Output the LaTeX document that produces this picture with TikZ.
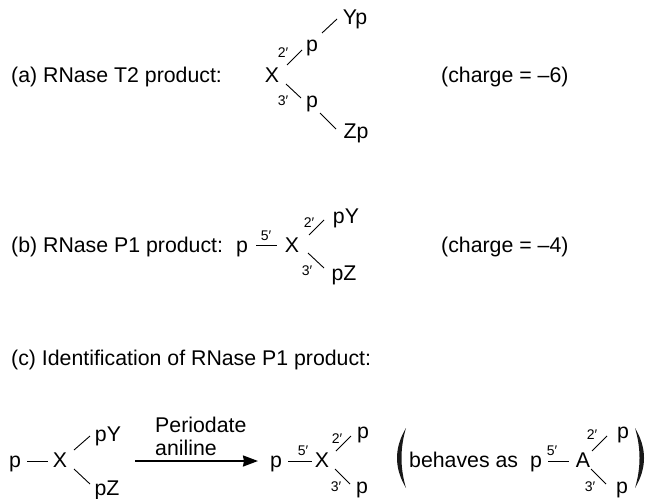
\documentclass[tikz,border=0pt]{standalone}
\usepackage{fontspec}
\setmainfont{Liberation Sans}
\usetikzlibrary{arrows.meta}
\tikzset{
  lbl/.style={anchor=base west, inner sep=0pt},
  atom/.style={anchor=base, inner sep=0pt},
  prime/.style={anchor=base, inner sep=0pt, font=\fontsize{14}{16}\selectfont},
  bond/.style={line width=0.9pt},
  reaction/.style={line width=2pt, -{Stealth[length=15pt,width=11pt,inset=1pt]}},
  bigparen/.style={fill=black!90, draw=none}
}

\begin{document}
\begin{tikzpicture}[x=1pt, y=-1pt, font=\fontsize{21.3}{24}\selectfont]
\useasboundingbox (0,0) rectangle (647,498);

% ---- (a) T2 product ----
\node[lbl] (labela) at (11,82){(a) RNase T2 product:};
\node[atom] (Xa) at (272,82){X};
\node[atom] (pa) at (312,51){p};
\node[atom] (pb) at (312,107){p};
\node[atom] (Yp) at (355,24){Yp};
\node[atom] (Zp) at (356,138){Zp};
\node[prime] (twoa) at (283,57){2′};
\node[prime] (threea) at (283,105){3′};
\node[lbl] (chargea) at (441,82){(charge = –6)};
\draw[bond] ([shift={(15,-17)}]Xa.base) -- ([shift={(-10,-1)}]pa.base);
\draw[bond] ([shift={(10,-18)}]pa.base) -- ([shift={(-18,-5)}]Yp.base);
\draw[bond] ([shift={(14,2)}]Xa.base) -- ([shift={(-11,-9)}]pb.base);
\draw[bond] ([shift={(8,6)}]pb.base) -- ([shift={(-20,-9)}]Zp.base);

% ---- (b) P1 product ----
\node[lbl] (labelb) at (11,252){(b) RNase P1 product:};
\node[atom] (pc) at (242,252){p};
\node[atom] (Xb) at (292,252){X};
\node[atom] (pY) at (346,223){pY};
\node[atom] (pZ) at (344,280){pZ};
\node[prime] (fiveb) at (266,240){5′};
\node[prime] (twob) at (309,227){2′};
\node[prime] (threeb) at (307,275){3′};
\node[lbl] (chargeb) at (441,252){(charge = –4)};
\draw[bond] ([shift={(14,-7)}]pc.base) -- ([shift={(-15,-7)}]Xb.base);
\draw[bond] ([shift={(17,-17)}]Xb.base) -- ([shift={(-22,-3)}]pY.base);
\draw[bond] ([shift={(16,1)}]Xb.base) -- ([shift={(-20,-12)}]pZ.base);

% ---- (c) identification ----
\node[lbl] (labelc) at (11,365){(c) Identification of RNase P1 product:};

% starting compound
\node[atom] (pd) at (15,467){p};
\node[atom] (Xc) at (60,467){X};
\node[atom] (pYc) at (108,441){pY};
\node[atom] (pZc) at (107,495){pZ};
\draw[bond] ([shift={(12,-6)}]pd.base) -- ([shift={(-12,-6)}]Xc.base);
\draw[bond] ([shift={(14,-17)}]Xc.base) -- ([shift={(-18,-5)}]pYc.base);
\draw[bond] ([shift={(14,2)}]Xc.base) -- ([shift={(-17,-11)}]pZc.base);

% oxidation arrow
\node[lbl] (periodate) at (155,432){Periodate};
\node[lbl] (aniline) at (155,455){aniline};
\node[atom] (pe) at (276,467){p};
\draw[reaction] ([shift={(75,-6)}]Xc.base) -- ([shift={(-18,-6)}]pe.base);

% oxidized product
\node[atom] (Xd) at (322,467){X};
\node[atom] (pf) at (363,438){p};
\node[atom] (pg) at (362,493){p};
\node[prime] (fivec) at (303,455){5′};
\node[prime] (twoc) at (337,443){2′};
\node[prime] (threec) at (336,491){3′};
\draw[bond] ([shift={(12,-6)}]pe.base) -- ([shift={(-10,-6)}]Xd.base);
\draw[bond] ([shift={(14,-16)}]Xd.base) -- ([shift={(-12,-2)}]pf.base);
\draw[bond] ([shift={(13,2)}]Xd.base) -- ([shift={(-12,-9)}]pg.base);

% bracketed comparison
\fill[bigparen] (406,428) .. controls (394,448) and (394,468) .. (406,488)
  .. controls (400,468) and (400,448) .. (406,428);
\node[lbl] (behaves) at (409,467){behaves as};
\node[atom] (ph) at (536,467){p};
\node[atom] (Aa) at (583,467){A};
\node[atom] (pi) at (623,438){p};
\node[atom] (pj) at (622,493){p};
\node[prime] (fived) at (552,455){5′};
\node[prime] (twod) at (592,439){2′};
\node[prime] (threed) at (590,491){3′};
\draw[bond] ([shift={(12,-6)}]ph.base) -- ([shift={(-14,-6)}]Aa.base);
\draw[bond] ([shift={(9,-16)}]Aa.base) -- ([shift={(-16,-2)}]pi.base);
\draw[bond] ([shift={(8,2)}]Aa.base) -- ([shift={(-16,-9)}]pj.base);
\fill[bigparen] (635,428) .. controls (647,448) and (647,468) .. (635,488)
  .. controls (641,468) and (641,448) .. (635,428);
\end{tikzpicture}
\end{document}
